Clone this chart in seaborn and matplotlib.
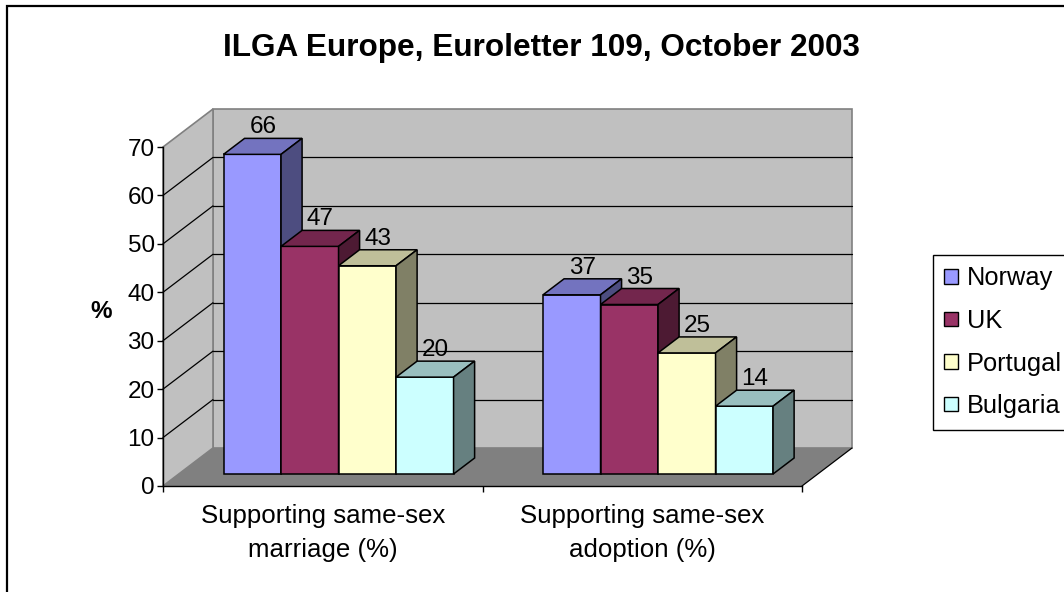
import matplotlib
matplotlib.use("Agg")
import matplotlib.pyplot as plt
import matplotlib.patches as mpatches
import numpy as np
import pandas as pd
import seaborn as sns

# chart data
categories = ["Supporting same-sex\nmarriage (%)", "Supporting same-sex\nadoption (%)"]
countries = ["Norway", "UK", "Portugal", "Bulgaria"]
marriage = [66, 47, 43, 20]
adoption = [37, 35, 25, 14]
colors = ["#9999FF", "#993366", "#FFFFCC", "#CCFFFF"]
yticks = [0, 10, 20, 30, 40, 50, 60, 70]
title = "ILGA Europe, Euroletter 109, October 2003"

W, H = 1064, 592
FS = 17.5

sns.set_style("white")
plt.rcParams["font.family"] = ["Liberation Sans", "DejaVu Sans"]
plt.rcParams["text.color"] = "black"
plt.rcParams["axes.labelcolor"] = "black"
plt.rcParams["xtick.color"] = "black"
plt.rcParams["ytick.color"] = "black"

df = pd.DataFrame({
    "category": [categories[0]] * len(countries) + [categories[1]] * len(countries),
    "country": countries * 2,
    "value": marriage + adoption,
})

fig = plt.figure(figsize=(W / 100, H / 100), dpi=100)
# front plane of the 3d box: x -0.5..1.5, y 0..70
ax = fig.add_axes([163 / W, (H - 486) / H, 639 / W, 339 / H])

sns.barplot(data=df, x="category", y="value", hue="country", hue_order=countries,
            palette=colors, width=0.72, gap=0, saturation=1, edgecolor="black",
            linewidth=1.1, legend=False, ax=ax)
bars = [p for p in ax.patches]

ax.set_xlim(-0.5, 1.5)
ax.set_ylim(yticks[0], yticks[-1])

# depth of the box (oblique projection), in data units
ddx = 50 / (639 / 2)
ddy = 38 / (339 / 70)
f0, fd = 12 / 38, 16 / 38  # bar front offset and bar depth as fractions
bdx, bdy = fd * ddx, fd * ddy

x0, x1 = ax.get_xlim()
ytop = yticks[-1]

# walls and floor
ax.add_patch(mpatches.Polygon([(x0 + ddx, ddy), (x1 + ddx, ddy), (x1 + ddx, ytop + ddy), (x0 + ddx, ytop + ddy)],
                              closed=True, fc="#C0C0C0", ec="#808080", lw=1.2, zorder=0.5, clip_on=False))
ax.add_patch(mpatches.Polygon([(x0, 0), (x0, ytop), (x0 + ddx, ytop + ddy), (x0 + ddx, ddy)],
                              closed=True, fc="#C0C0C0", ec="#808080", lw=1.2, zorder=0.5, clip_on=False))
for v in yticks[1:-1]:
    ax.plot([x0 + ddx, x1 + ddx], [v + ddy, v + ddy], color="black", lw=0.9, zorder=0.6, clip_on=False)
    ax.plot([x0, x0 + ddx], [v, v + ddy], color="black", lw=0.9, zorder=0.6, clip_on=False)
ax.add_patch(mpatches.Polygon([(x0, 0), (x1, 0), (x1 + ddx, ddy), (x0 + ddx, ddy)],
                              closed=True, fc="#808080", ec="none", zorder=0.7, clip_on=False))
ax.plot([x1, x1 + ddx], [0, ddy], color="black", lw=0.9, zorder=0.8, clip_on=False)

# turn seaborn's flat bars into boxes
bars = sorted(bars, key=lambda p: p.get_x())
for i, p in enumerate(bars):
    p.set_x(p.get_x() + f0 * ddx)
    p.set_y(f0 * ddy)
    p.set_clip_on(False)
    z = 2 + i * 0.01
    p.set_zorder(z)
    bx0 = p.get_x()
    bx1 = bx0 + p.get_width()
    by0 = p.get_y()
    by1 = by0 + p.get_height()
    fc = np.array(p.get_facecolor()[:3])
    top = mpatches.Polygon([(bx0, by1), (bx1, by1), (bx1 + bdx, by1 + bdy), (bx0 + bdx, by1 + bdy)],
                           closed=True, fc=fc * 0.75, ec="black", lw=1.1, zorder=z, clip_on=False)
    side = mpatches.Polygon([(bx1, by0), (bx1 + bdx, by0 + bdy), (bx1 + bdx, by1 + bdy), (bx1, by1)],
                            closed=True, fc=fc * 0.5, ec="black", lw=1.1, zorder=z, clip_on=False)
    ax.add_patch(top)
    ax.add_patch(side)
    ax.annotate(f"{p.get_height():.0f}", xy=(bx0 + p.get_width() / 2 + bdx / 2, by1 + bdy),
                xytext=(0, 3.6), textcoords="offset points", ha="center", va="baseline",
                fontsize=FS, zorder=10, annotation_clip=False)

# axes styling
for s in ["top", "right"]:
    ax.spines[s].set_visible(False)
ax.spines["left"].set_color("black")
ax.spines["bottom"].set_color("black")
ax.spines["left"].set_linewidth(1.0)
ax.spines["bottom"].set_linewidth(1.0)
ax.spines["left"].set_zorder(5)
ax.spines["bottom"].set_zorder(5)
ax.set_facecolor("none")

ax.set_yticks(yticks)
ax.tick_params(axis="y", direction="out", length=4, width=1, pad=2, labelsize=FS, colors="black", left=True)
ax.set_xticks([0, 1])
ax.set_xticks([-0.5, 0.5, 1.5], minor=True)
ax.tick_params(axis="x", which="major", length=0, pad=13, labelsize=18.6, colors="black")
ax.tick_params(axis="x", which="minor", direction="out", length=4.5, width=1, bottom=True)
for lab in ax.get_xticklabels():
    lab.set_linespacing(1.5)
ax.set_xlabel("")
ax.set_ylabel("%", rotation=0, fontsize=FS, fontweight="bold", ha="center", va="center")
ax.yaxis.set_label_coords((101 - 163) / 639, (486 - 312) / 339)

fig.text(541 / W, 1 - 48 / H, title, ha="center", va="center", fontsize=22.7, fontweight="bold")

handles = [mpatches.Patch(facecolor=c, edgecolor="black", linewidth=1.0) for c in colors]
leg = fig.legend(handles, countries, loc="upper left", bbox_to_anchor=(933 / W, 1 - 255 / H),
                 frameon=True, fancybox=False, edgecolor="black", framealpha=1, fontsize=18.3,
                 borderpad=0.45, handlelength=0.52, handleheight=0.52, handletextpad=0.35,
                 labelspacing=0.73, borderaxespad=0)
leg.get_frame().set_linewidth(1.0)

# chart border
fig.patches.append(mpatches.Rectangle((7 / W, -0.1), 1.2, 1 - 6 / H + 0.1, transform=fig.transFigure,
                                      fill=False, ec="black", lw=1.6, clip_on=False))

fig.savefig("out.png", dpi=100)
